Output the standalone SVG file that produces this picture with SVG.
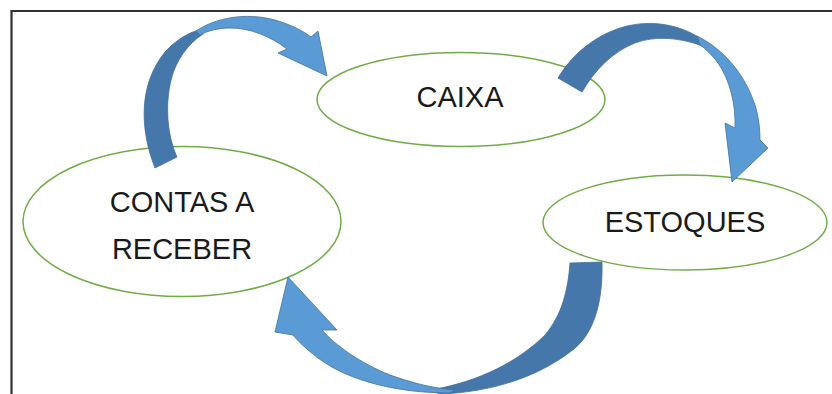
<svg xmlns="http://www.w3.org/2000/svg" width="832" height="394" viewBox="0 0 832 394">
<style>
.node ellipse{fill:#ffffff;stroke:#70AD47;stroke-width:1.5}
.node text{font-family:"Liberation Sans",Arial,sans-serif;font-size:29px;fill:#1a1a1a;text-anchor:middle}
.dark{fill:#4677AA;stroke:#41719C;stroke-width:0.8}
.light{fill:#5B9BD5;stroke:#41719C;stroke-width:0.8}
</style>
<rect width="832" height="394" fill="#ffffff"/>
<path d="M11.5,394 V11 H832" fill="none" stroke="#333333" stroke-width="2.2"/>
<g id="caixa" class="node">
<ellipse cx="461" cy="99.5" rx="144" ry="47"/>
<text x="460" y="107">CAIXA</text>
</g>
<g id="contas-a-receber" class="node">
<ellipse cx="182" cy="221.5" rx="159" ry="75"/>
<text x="182" y="212">CONTAS A</text>
<text x="182" y="259">RECEBER</text>
</g>
<g id="estoques" class="node">
<ellipse cx="685" cy="222.5" rx="142" ry="47.5"/>
<text x="685" y="232">ESTOQUES</text>
</g>
<g id="connectors">
<g id="arrow-contas-caixa">
<path class="dark" d="M155,168 C140,130 138,85 165,52 C178,38 190,32 200,30 L203,34 C188,44 176,60 171,80 C165,105 167,135 177,157 Z"/>
<path class="light" d="M196,31 C215,18 245,12 275,20 C292,25 303,31 311,37 L318,31 L327,76 L278,53 L287,49 C270,36 250,28 230,28 C218,28 207,31 200,35 Z"/>
</g>
<g id="arrow-caixa-estoques">
<path class="dark" d="M558,78 C570,58 590,38 620,28 C645,20 675,22 700,38 L705,47 C682,38 657,35 635,43 C612,52 595,70 582,92 Z"/>
<path class="light" d="M697,36 C725,50 745,75 755,105 C759,118 760,130 760,140 L768,148 L732,182 L725,123 L735,128 C736,105 730,80 718,63 C712,55 706,49 700,45 Z"/>
</g>
<g id="arrow-estoques-contas">
<path class="dark" d="M570,263 L602,262 C603,300 595,335 570,352 C540,375 495,392 440,394 L430,390 C480,382 520,360 545,335 C562,315 568,290 570,263 Z"/>
<path class="light" d="M450,393 C400,393 350,382 318,358 C305,348 297,340 293,335 L275,332 L288,277 L337,330 L322,330 C335,345 360,363 390,375 C410,382 430,388 455,390 Z"/>
</g>
</g>
</svg>
